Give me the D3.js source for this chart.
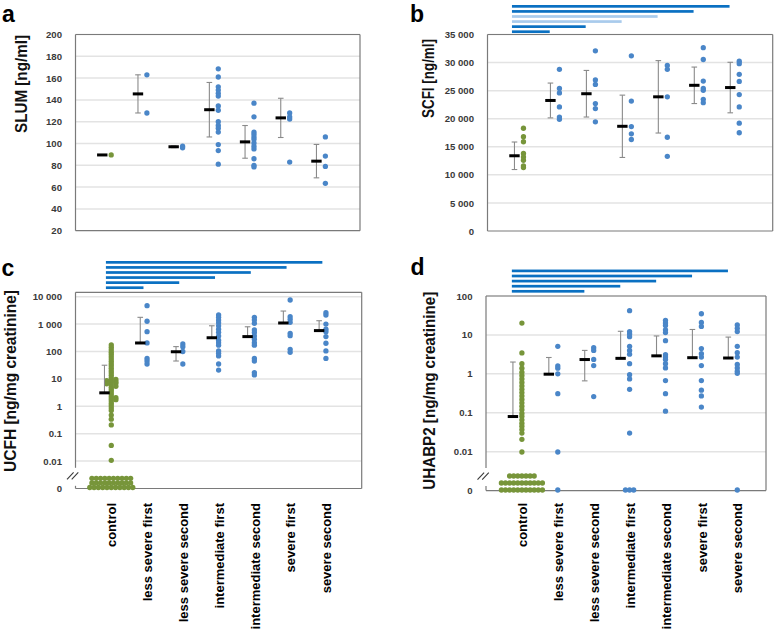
<!DOCTYPE html>
<html><head><meta charset="utf-8">
<script src="https://cdn.jsdelivr.net/npm/d3@7"></script>
<style>
body{margin:0;background:#fff}
svg{display:block;font-family:"Liberation Sans",Arial,sans-serif}
</style>
</head><body>
<svg id="chart" width="776" height="631"></svg>
<script>
// ---------- shared ----------
const categories = ["control","less severe first","less severe second","intermediate first","intermediate second","severe first","severe second"];
const groupIndex = [1,2,3,4,5,6,7];

// ---------- panel a : SLUM ----------
const slumTicks = [20,40,60,80,100,120,140,160,180,200];
const slumTickLabels = ["20","40","60","80","100","120","140","160","180","200"];
const slumValues = [
  [89.5],
  [163,128],
  [97.5,96],
  [168.5,161,152,149,146,143.5,134.5,130.5,120,116.5,114,110.5,99,93.5,81],
  [137,124.5,110.5,108.5,106,104,100.5,97.5,95,86,80,78.5],
  [128,124.5,122.5,83],
  [106,88.5,79,63.5]
];
const slumMeans = [89.5,145.5,97,131,101.5,123.5,83.8];
const slumSD = [0,17.5,0.8,25,15,18,15.3];

// ---------- panel b : SCFI ----------
const scfiTicks = [0,5000,10000,15000,20000,25000,30000,35000];
const scfiTickLabels = ["0","5 000","10 000","15 000","20 000","25 000","30 000","35 000"];
const scfiValues = [
  [18300,16800,15900,13800,13200,12600,11600,11300],
  [28800,25400,24600,22100,20300,19900],
  [32100,26900,26100,22700,21800,19450],
  [31200,23150,18600,17300,16300],
  [29500,28800,23900,16700,13300],
  [32650,30550,26700,25400,25050,23450,22850],
  [30250,29800,27900,26650,24300,22100,19200,17500]
];
const scfiMeans = [13400,23250,24450,18650,23900,25950,25550];
const scfiSD = [2450,3100,4150,5550,6450,3250,4500];
const scfiSigGroups = [7,6,5,4,3,2];
const scfiSigShades = ["dark","dark","light","light","dark","dark"];

// ---------- panel c : UCFH ----------
const ucfhTicks = [0.001,0.01,0.1,1,10,100,1000,10000];
const ucfhTickLabels = ["0","0.01","0.1","1","10","100","1 000","10 000"];
const ucfhValues = [
  [173,142,116,95,78,64,53,44,36,30,24.5,20,16.5,13.5,11,9.1,7.5,6.1,5.0,4.1,3.4,2.8,2.3,1.9,1.56,1.27,1.05,0.86,0.71,0.48,0.34,0.21,0.0375,0.0107,9.5,8.6,8.0,7.0,6.6,5.4,2.05,1.75],
  [4700,1270,530,205,56,45,35],
  [188,150,100,35],
  [2150,1770,1410,1120,870,650,500,370,260,210,170,105,86,69,35,21],
  [1770,1410,1070,610,490,370,280,210,170,56,45,17,14],
  [7600,1860,1500,1160,460,380,120,94],
  [2600,2150,1000,650,530,350,200,105,56]
];
const ucfhZeroCounts = [31,0,0,0,0,0,0];
const ucfhMeans = [3.1,205,98,318,350,1100,580];
const ucfhSD = [28.5,1565,53,552,450,1900,750];
const ucfhSigGroups = [7,6,5,4,3,2];
const ucfhSigShades = ["dark","dark","dark","dark","dark","dark"];

// ---------- panel d : UHABP2 ----------
const uhabpTicks = [0.001,0.01,0.1,1,10,100];
const uhabpTickLabels = ["0","0.01","0.1","1","10","100"];
const uhabpValues = [
  [20.1,3.44,1.82,1.40,1.10,0.91,0.74,0.60,0.49,0.40,0.33,0.27,0.22,0.18,0.147,0.12,0.096,0.081,0.066,0.054,0.045,0.037,0.030,0.0208,0.0098],
  [5.1,1.6,1.4,1.0,0.31,0.0098],
  [4.7,4.0,2.35,1.63,0.26],
  [42,12.2,10.6,9.0,5.1,4.0,3.2,1.82,0.95,0.74,0.40,0.030],
  [23.6,20.1,17.5,13.5,11.5,7.1,3.1,2.7,2.35,1.82,1.42,0.67,0.31,0.11],
  [35,21,16.5,4.45,3.3,2.7,1.63,0.67,0.38,0.27,0.14],
  [18.1,14.8,12.2,5.1,3.5,2.7,1.74,1.42,1.17,1.03]
];
const uhabpZeroCounts = [29,1,0,3,0,0,1];
const uhabpMeans = [0.08,0.98,2.33,2.5,2.9,2.6,2.55];
const uhabpSD = [1.93,1.65,1.67,9.9,6.5,11.2,6.25];
const uhabpSigGroups = [7,6,5,4,3];
const uhabpSigShades = ["dark","dark","dark","dark","dark"];

// ---------- styling ----------
const BLUE = "#4A86C8", GREEN = "#77953A";
const SIG = {dark:"#0A70C2", light:"#A9CBEC"};
const svg = d3.select("#chart");

function drawPanel(p){
  const g = svg.append("g");
  const x = d3.scaleLinear().domain(p.xDomain).range([p.left,p.right]);
  const y = (p.log ? d3.scaleLog() : d3.scaleLinear()).domain(p.yDomain).range([p.bottom,p.top]);

  // gridlines
  g.selectAll("line.grid").data(p.ticks.filter(t => t !== p.yDomain[0]))
    .join("line").attr("class","grid")
    .attr("x1",p.left).attr("x2",p.right)
    .attr("y1",d=>y(d)).attr("y2",d=>y(d))
    .attr("stroke","#e3e3e3").attr("stroke-width",1.5);

  // frame
  const seg = (x1,y1,x2,y2,c,w)=>g.append("line").attr("x1",x1).attr("y1",y1).attr("x2",x2).attr("y2",y2)
      .attr("stroke",c||"#7a7a7a").attr("stroke-width",w||1.2);
  seg(p.left,p.top,p.right,p.top);
  seg(p.right,p.top,p.right,p.bottom);
  seg(p.left,p.bottom,p.right,p.bottom);
  if(p.axisBreak){
    const yb = y(p.breakValue);
    seg(p.left,p.top,p.left,yb-7);
    seg(p.left,yb+11,p.left,p.bottom);
    [-5.2,-0.5].forEach(dx=>seg(p.left+dx-3.3,yb+4.5,p.left+dx+3.3,yb-2.5,"#3a3a3a",1.1));
  } else {
    seg(p.left,p.top,p.left,p.bottom);
  }

  // y tick labels via d3 axis
  const ax = g.append("g").attr("transform",`translate(${p.left},0)`)
    .call(d3.axisLeft(y).tickValues(p.ticks).tickFormat((d,i)=>p.tickLabels[i]).tickSize(0).tickPadding(13.5));
  ax.select(".domain").remove();
  ax.selectAll("text").attr("font-family","Liberation Sans, Arial, sans-serif")
    .attr("font-size",9.6).attr("font-weight","bold").attr("fill","#3a3a3a");

  // y title
  g.append("text").attr("transform",`translate(${p.titlePos[0]},${p.titlePos[1]}) rotate(-90)`)
    .attr("text-anchor","end").attr("font-size",16.5).attr("font-weight","bold").attr("fill","#111")
    .attr("textLength",p.titleLength).attr("lengthAdjust","spacingAndGlyphs")
    .text(p.title);

  // panel letter
  g.append("text").attr("x",p.letterPos[0]).attr("y",p.letterPos[1])
    .attr("font-size",23).attr("font-weight","bold").attr("fill","#000").text(p.letter);

  // categories
  if(p.showCategories){
    const bx = g.append("g").attr("transform",`translate(0,${p.bottom})`)
      .call(d3.axisBottom(x).tickValues(groupIndex).tickFormat(i=>categories[i-1]).tickSize(0));
    bx.select(".domain").remove();
    bx.selectAll("text").attr("transform","rotate(-90)").attr("text-anchor","end")
      .attr("x",-(503-p.bottom)).attr("y",0).attr("dy","0.36em")
      .attr("font-family","Liberation Sans, Arial, sans-serif")
      .attr("font-size",13).attr("font-weight","bold").attr("fill","#000");
  }

  // dots (simple beeswarm: shift sideways only when almost coincident)
  const dots = [];
  p.values.forEach((vals,gi)=>{
    const k = groupIndex[gi];
    const placed = [];
    vals.forEach(v=>{
      const py = y(v);
      let slot = 0;
      for(let s=0;s<12;s++){
        const cand = s===0?0:(s%2===1?(s+1)/2:-(s/2));
        if(!placed.some(q=>q.slot===cand && Math.abs(q.py-py)<1.2)){slot=cand;break;}
      }
      placed.push({slot,py});
      dots.push({cx:x(k)+slot*4.6, cy:py, gi});
    });
    const nz = p.zeroCounts ? p.zeroCounts[gi] : 0;
    let remaining = nz, row = 0;
    while(remaining>0){
      const cnt = Math.min(p.zeroRowCap[row] ?? 11, remaining);
      for(let j=0;j<cnt;j++){
        dots.push({cx:x(k)+(j-(cnt-1)/2)*p.zeroSpacing, cy:y(p.yDomain[0])-p.zeroBase-row*p.zeroRowStep, gi});
      }
      remaining -= cnt; row++;
    }
  });
  g.selectAll("circle.dot").data(dots).join("circle").attr("class","dot")
    .attr("cx",d=>d.cx).attr("cy",d=>d.cy).attr("r",2.65)
    .attr("fill",d=>d.gi===0?GREEN:BLUE);

  // error bars
  p.means.forEach((m,gi)=>{
    const sd = p.sds[gi]; if(!sd) return;
    const cx = x(groupIndex[gi]+p.meanOffset);
    const hi = m+sd, lo = m-sd;
    const yLo = (lo>0 || !p.log) ? y(lo) : y(m);
    seg(cx,y(hi),cx,yLo,"#8a8a8a",1.1);
    seg(cx-2.8,y(hi),cx+2.8,y(hi),"#8a8a8a",1.1);
    if(lo>0 || !p.log) seg(cx-2.8,y(lo),cx+2.8,y(lo),"#8a8a8a",1.1);
  });
  // means
  g.selectAll("line.mean").data(p.means).join("line").attr("class","mean")
    .attr("x1",(d,i)=>x(groupIndex[i]+p.meanOffset)-5.2).attr("x2",(d,i)=>x(groupIndex[i]+p.meanOffset)+5.2)
    .attr("y1",d=>y(d)).attr("y2",d=>y(d)).attr("stroke","#000").attr("stroke-width",3);

  // significance bars
  if(p.sig){
    const n = p.sig.groups.length;
    g.selectAll("rect.sig").data(p.sig.groups).join("rect").attr("class","sig")
      .attr("x",x(p.sig.start))
      .attr("width",d=>x(d+p.sig.endOffset)-x(p.sig.start))
      .attr("y",(d,i)=>p.top-p.sig.gap-(n-1-i)*p.sig.step-1.35)
      .attr("height",2.7)
      .attr("fill",(d,i)=>SIG[p.sig.shades[i]]);
  }
}

drawPanel({letter:"a",letterPos:[2,22],left:75.5,right:360,top:34.5,bottom:230.7,xDomain:[0,7.97],
  log:false,yDomain:[20,200],ticks:slumTicks,tickLabels:slumTickLabels,title:"SLUM [ng/ml]",titlePos:[27,35],titleLength:98,
  values:slumValues,means:slumMeans,sds:slumSD,meanOffset:-0.25});

drawPanel({letter:"b",letterPos:[410,22],left:487.5,right:772.7,top:34.5,bottom:231,xDomain:[0,7.93],
  log:false,yDomain:[0,35000],ticks:scfiTicks,tickLabels:scfiTickLabels,title:"SCFI [ng/ml]",titlePos:[434,39],titleLength:79,
  values:scfiValues,means:scfiMeans,sds:scfiSD,meanOffset:-0.25,
  sig:{groups:scfiSigGroups,shades:scfiSigShades,start:0.68,endOffset:-0.27,gap:2.8,step:5.07}});

drawPanel({letter:"c",letterPos:[1.5,276],left:75.5,right:361.7,top:292.3,bottom:488.5,xDomain:[0,8],
  log:true,yDomain:[0.001,14500],ticks:ucfhTicks,tickLabels:ucfhTickLabels,title:"UCFH [ng/mg creatinine]",titlePos:[15.5,290],titleLength:182,
  values:ucfhValues,zeroCounts:ucfhZeroCounts,zeroRowCap:[11,10,10],zeroSpacing:4.3,zeroBase:1,zeroRowStep:4.6,
  means:ucfhMeans,sds:ucfhSD,meanOffset:-0.19,axisBreak:true,breakValue:0.00316,showCategories:true,
  sig:{groups:ucfhSigGroups,shades:ucfhSigShades,start:0.85,endOffset:-0.1,gap:4.6,step:5.07}});

drawPanel({letter:"d",letterPos:[410.5,275],left:486,right:766,top:296,bottom:490.6,xDomain:[0,7.8],
  log:true,yDomain:[0.001,100],ticks:uhabpTicks,tickLabels:uhabpTickLabels,title:"UHABP2 [ng/mg creatinine]",titlePos:[435,291.7],titleLength:198,
  values:uhabpValues,zeroCounts:uhabpZeroCounts,zeroRowCap:[11,11,7],zeroSpacing:4.1,zeroBase:0.6,zeroRowStep:7,
  means:uhabpMeans,sds:uhabpSD,meanOffset:-0.25,axisBreak:true,breakValue:0.0025,showCategories:true,
  sig:{groups:uhabpSigGroups,shades:uhabpSigShades,start:0.72,endOffset:-0.26,gap:4.7,step:5.1}});
</script>
</body></html>
